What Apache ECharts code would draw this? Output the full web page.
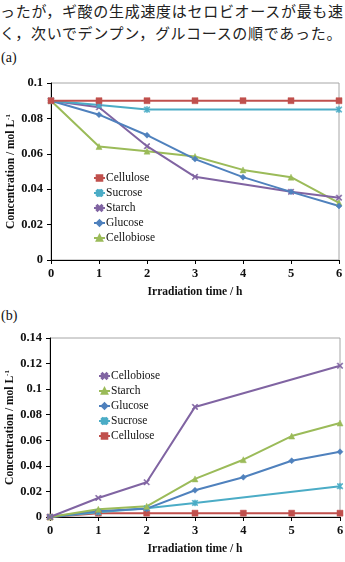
<!DOCTYPE html>
<html>
<head>
<meta charset="utf-8">
<script src="https://cdn.jsdelivr.net/npm/echarts@6/dist/echarts.min.js"></script>
<style>
  html, body { margin: 0; padding: 0; background: #fff; }
  body { width: 345px; height: 562px; position: relative; overflow: hidden; }
  .jp {
    position: absolute; left: 0; white-space: nowrap;
    font-family: "Noto Sans CJK JP", sans-serif; font-size: 15px;
    letter-spacing: 0.7px; color: #222;
  }
  .tag { position: absolute; left: 1px; font-family: "Liberation Serif", serif; font-size: 14px; color: #111; }
  #chartA { position: absolute; left: 0; top: 64px; width: 345px; height: 240px; }
  #chartB { position: absolute; left: 0; top: 325px; width: 345px; height: 237px; }
</style>
</head>
<body>
<div class="jp" style="top:0px">ったが，ギ酸の生成速度はセロビオースが最も速</div>
<div class="jp" style="top:22px">く，次いでデンプン，グルコースの順であった。</div>
<div class="tag" style="top:50px">(a)</div>
<div class="tag" style="top:308px">(b)</div>
<div id="chartA"></div>
<div id="chartB"></div>
<script>
// x values (irradiation time, h)
const hours = [0, 1, 2, 3, 4, 5, 6]

// (a) remaining concentration, mol/L  (null = no measurement)
const aCellulose = [0.09, 0.09, 0.09, 0.09, 0.09, 0.09, 0.09]
const aSucrose = [0.09, 0.0876, 0.085, null, null, null, 0.085]
const aStarch = [0.09, 0.0863, 0.0643, 0.047, null, 0.0385, 0.0352]
const aGlucose = [0.09, 0.0821, 0.0705, 0.057, 0.0468, 0.0385, 0.0305]
const aCellobiose = [0.09, 0.0641, 0.0615, 0.0585, 0.0509, 0.0468, 0.0323]

// (b) formic acid concentration, mol/L
const bCellobiose = [0, 0.0149, 0.0272, 0.0861, null, null, 0.1183]
const bStarch = [0, 0.006, 0.0084, 0.0298, 0.0448, 0.0633, 0.0735]
const bGlucose = [0, 0.0047, 0.0065, 0.0209, 0.0311, 0.044, 0.051]
const bSucrose = [0, 0.0037, 0.0068, 0.011, null, null, 0.0241]
const bCellulose = [0, 0.003, 0.003, 0.003, 0.003, 0.003, 0.003]

const RED = '#c0504d'
const CYAN = '#4bacc6'
const PURPLE = '#8064a2'
const BLUE = '#4f81bd'
const GREEN = '#9bbb59'

const crossPath = 'path://M0,1.4L3.6,5L5,3.6L1.4,0L5,-3.6L3.6,-5L0,-1.4L-3.6,-5L-5,-3.6L-1.4,0L-5,3.6L-3.6,5Z'
const starPath = 'path://M0,1.4L3.6,5L5,3.6L1.4,0L5,-3.6L3.6,-5L0,-1.4L-3.6,-5L-5,-3.6L-1.4,0L-5,3.6L-3.6,5Z M-0.9,-5L-0.9,5L0.9,5L0.9,-5Z'

const SERIF = '"Liberation Serif", "Times New Roman", serif'

function pairs(values) {
  return hours.map((h, i) => [h, values[i]])
}

function makeSeries(name, values, color, symbol, size) {
  return {
    name: name,
    type: 'line',
    data: pairs(values),
    connectNulls: true,
    symbol: symbol,
    symbolSize: size,
    showAllSymbol: true,
    lineStyle: { color: color, width: 2 },
    itemStyle: { color: color, borderColor: color, borderWidth: 0.5 },
    emphasis: { disabled: true },
    animation: false
  }
}

function baseOption(grid, yMax, legendPos, legendNames) {
  return {
    animation: false,
    grid: Object.assign({
      show: true,
      borderColor: '#a6a6a6',
      borderWidth: 1,
      backgroundColor: 'transparent',
      containLabel: false,
      outerBoundsMode: 'none'
    }, grid),
    legend: {
      orient: 'vertical',
      left: legendPos.left,
      top: legendPos.top,
      itemGap: 3,
      itemWidth: 11,
      itemHeight: 7,
      data: legendNames,
      textStyle: { fontFamily: SERIF, fontSize: 11.5, color: '#111', padding: [0, 0, 0, -4] }
    },
    xAxis: {
      type: 'value',
      min: 0,
      max: 6,
      interval: 1,
      name: 'Irradiation time / h',
      nameLocation: 'middle',
      nameGap: 26,
      nameMoveOverlap: false,
      nameTextStyle: { fontFamily: SERIF, fontWeight: 'bold', fontSize: 11.5, color: '#111' },
      axisLine: { lineStyle: { color: '#000', width: 1 } },
      axisTick: { show: true, inside: false, length: 4, lineStyle: { color: '#000' } },
      axisLabel: { fontFamily: SERIF, fontWeight: 'bold', fontSize: 12.5, color: '#111', margin: 7 },
      splitLine: { show: false }
    },
    yAxis: {
      type: 'value',
      min: 0,
      max: yMax,
      interval: 0.02,
      name: 'Concentration / mol L{sup|-1}',
      nameLocation: 'middle',
      nameGap: 34,
      nameMoveOverlap: false,
      nameTextStyle: {
        fontFamily: SERIF, fontWeight: 'bold', fontSize: 11.5, color: '#111',
        rich: { sup: { fontFamily: SERIF, fontWeight: 'bold', fontSize: 7, color: '#111', verticalAlign: 'top', padding: [0, 0, 5, 0] } }
      },
      axisLine: { show: true, lineStyle: { color: '#000', width: 1 } },
      axisTick: { show: true, inside: false, length: 4, lineStyle: { color: '#000' } },
      axisLabel: { fontFamily: SERIF, fontWeight: 'bold', fontSize: 12.5, color: '#111', margin: 8 },
      splitLine: { show: false }
    }
  }
}

const chartA = echarts.init(document.getElementById('chartA'))
const optA = baseOption({ left: 51, right: 6, top: 19, bottom: 44 }, 0.1, { left: 88, top: 103 },
  ['Cellulose', 'Sucrose', 'Starch', 'Glucose', 'Cellobiose'])
optA.series = [
  makeSeries('Cellobiose', aCellobiose, GREEN, 'triangle', 6),
  makeSeries('Starch', aStarch, PURPLE, crossPath, 6),
  makeSeries('Glucose', aGlucose, BLUE, 'diamond', 6),
  makeSeries('Sucrose', aSucrose, CYAN, starPath, 6),
  makeSeries('Cellulose', aCellulose, RED, 'rect', 6)
]
chartA.setOption(optA)

const chartB = echarts.init(document.getElementById('chartB'))
const optB = baseOption({ left: 50, right: 5, top: 13, bottom: 45 }, 0.14, { left: 93, top: 40 },
  ['Cellobiose', 'Starch', 'Glucose', 'Sucrose', 'Cellulose'])
optB.series = [
  makeSeries('Cellulose', bCellulose, RED, 'rect', 6),
  makeSeries('Sucrose', bSucrose, CYAN, starPath, 6),
  makeSeries('Glucose', bGlucose, BLUE, 'diamond', 6),
  makeSeries('Starch', bStarch, GREEN, 'triangle', 6),
  makeSeries('Cellobiose', bCellobiose, PURPLE, crossPath, 6)
]
chartB.setOption(optB)
</script>
</body>
</html>
